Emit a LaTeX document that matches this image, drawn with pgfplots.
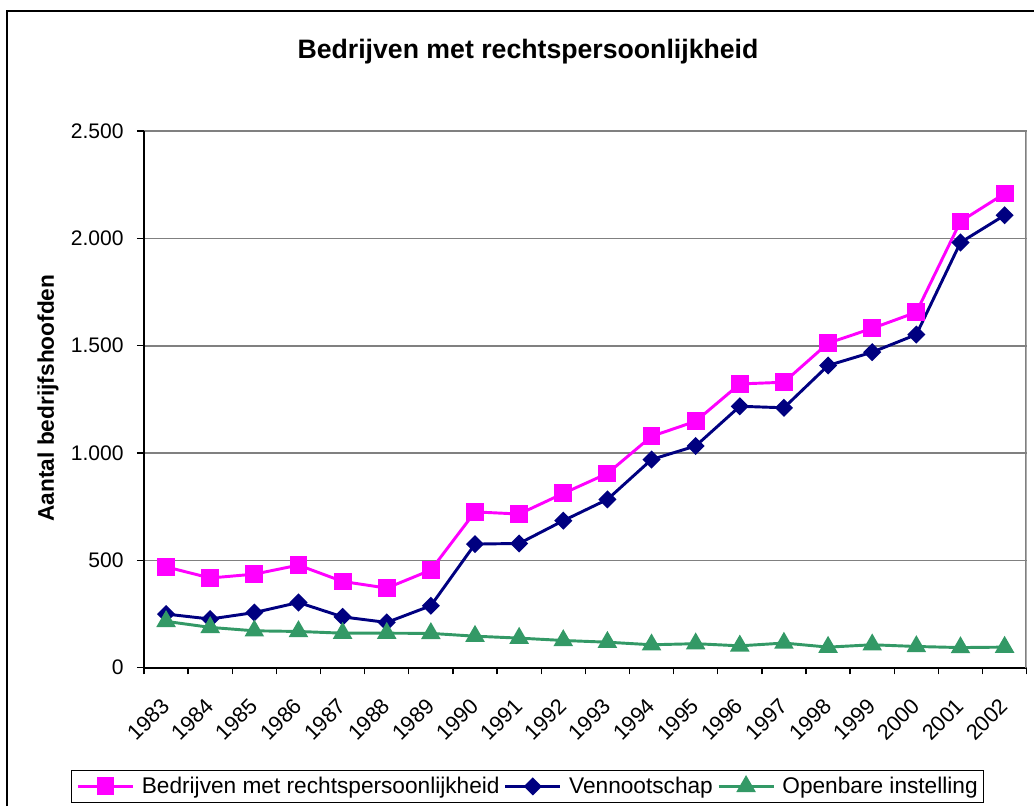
\documentclass[border=0pt]{standalone}
\usepackage{pgfplots}
\pgfplotsset{compat=1.18}
\usepackage{fontspec}
\setmainfont{Liberation Sans}
\definecolor{roze}{HTML}{FF00FF}
\definecolor{marine}{HTML}{000080}
\definecolor{zeegroen}{HTML}{339966}
\definecolor{rooster}{HTML}{808080}
\begin{document}
\begin{tikzpicture}
\path[use as bounding box] (0pt,0pt) rectangle (775.5pt,-604.5pt);
\draw[line width=0.8pt] (5.25pt,-604.5pt) -- (5.25pt,-8.25pt) -- (775.5pt,-8.25pt);
\node[font=\bfseries\fontsize{20}{24}\selectfont] at (396pt,-39pt) {Bedrijven met rechtspersoonlijkheid};
\node[font=\bfseries\fontsize{17}{20}\selectfont, rotate=90] at (36pt,-298.5pt) {Aantal bedrijfshoofden};
\begin{axis}[
    at={(108pt,-500.8pt)}, anchor=south west,
    scale only axis, width=662pt, height=402.5pt,
    xmin=-0.5, xmax=19.5, ymin=0, ymax=2500,
    axis x line=bottom, axis y line=left,
    axis line style={-, line width=1.5pt, black},
    xtick={0,...,19},
    xticklabels={1983,1984,1985,1986,1987,1988,1989,1990,1991,1992,1993,1994,1995,1996,1997,1998,1999,2000,2001,2002},
    major x tick style={draw=none},
    minor xtick={-0.5,0.5,...,19.5},
    ytick={0,500,1000,1500,2000,2500},
    yticklabels={0,500,1.000,1.500,2.000,2.500},
    tick align=outside,
    major tick length=5.25pt, minor tick length=5pt,
    tick style={black, line width=1pt},
    ymajorgrids, major grid style={rooster, line width=1.2pt},
    xticklabel style={font=\fontsize{16.3}{18}\selectfont, xshift=-4.5pt, yshift=-15pt, rotate=45, anchor=north east, inner sep=1pt},
    yticklabel style={font=\fontsize{15.8}{18}\selectfont, xshift=-6.5pt},
    legend style={at={(-0.083,-0.1906)}, anchor=north west, draw=black, line width=0.75pt,
        font=\fontsize{17}{20}\selectfont, legend columns=3,
        inner xsep=4pt, inner ysep=5pt, nodes={inner sep=0pt},
        /tikz/every even column/.append style={column sep=3.2pt},
        /tikz/every odd column/.append style={column sep=5.5pt}},
    legend image code/.code={\draw[mark repeat=2, mark phase=2] plot coordinates {(0pt,0pt) (20.6pt,0pt) (41.25pt,0pt)};},
    every axis plot/.append style={line width=2.2pt},
]
\draw[rooster, line width=1.8pt] (rel axis cs:1,0) -- (rel axis cs:1,1);
\addplot[roze, mark=square*, mark size=5.6pt] coordinates {
    (0,470) (1,418) (2,436) (3,478) (4,402) (5,371) (6,455) (7,726) (8,716) (9,812)
    (10,905) (11,1078) (12,1148) (13,1322) (14,1330) (15,1512) (16,1581) (17,1656) (18,2079) (19,2209)
};
\addlegendentry{Bedrijven met rechtspersoonlijkheid}
\addplot[marine, mark=square*, mark size=3.7pt, mark options={rotate=45}] coordinates {
    (0,250) (1,227) (2,257) (3,304) (4,237) (5,211) (6,289) (7,576) (8,579) (9,685)
    (10,784) (11,970) (12,1033) (13,1218) (14,1211) (15,1408) (16,1470) (17,1552) (18,1981) (19,2108)
};
\addlegendentry{Vennootschap}
\addplot[zeegroen, mark=triangle*, mark size=6.3pt] coordinates {
    (0,216) (1,188) (2,172) (3,169) (4,161) (5,161) (6,160) (7,147) (8,138) (9,127)
    (10,119) (11,107) (12,112) (13,102) (14,115) (15,96) (16,107) (17,99) (18,94) (19,96)
};
\addlegendentry{Openbare instelling}
\end{axis}
\end{tikzpicture}
\end{document}
